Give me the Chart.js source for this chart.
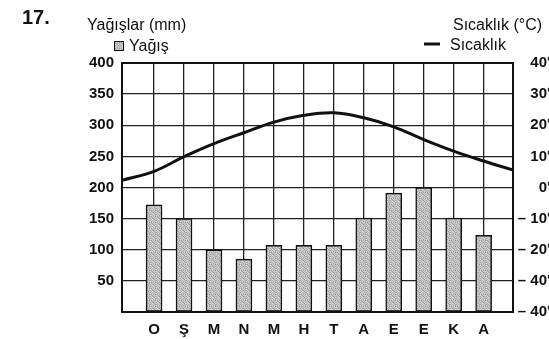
<!DOCTYPE html>
<html>
<head>
<meta charset="utf-8">
<script src="https://cdn.jsdelivr.net/npm/chart.js@4"></script>
<style>
  html, body { margin: 0; background: #fff; overflow: hidden; }
  canvas { display: block; }
</style>
</head>
<body>
<canvas id="iklimChart" width="553" height="339"></canvas>
<script>
// aylar ve değerler
const aylar = ['O', 'Ş', 'M', 'N', 'M', 'H', 'T', 'A', 'E', 'E', 'K', 'A'];
const yagis = [172, 150, 100, 85, 107, 107, 107, 151, 191, 200, 151, 123];   // mm
const sicaklik = [5.2, 9.9, 14.1, 17.6, 21.0, 23.2, 24.0, 22.4, 19.5, 15.4, 11.7, 8.5]; // °C
const sicaklikBas = 2.3;  // eğrinin sol kenardaki değeri
const sicaklikSon = 5.6;  // eğrinin sağ kenardaki değeri
const solEtiketler = ['50', '100', '150', '200', '250', '300', '350', '400'];
const sagEtiketler = { 40: '40°', 30: '30°', 20: '20°', 10: '10°', 0: '0°', '-10': '– 10°', '-20': '– 20°', '-30': '– 40°', '-40': '– 40°' };

const X_MIN = -1.07, X_MAX = 11.98;
const FONT = "'Liberation Sans', Arial, sans-serif";

// benekli gri dolgu deseni
function dokuYap() {
    const c = document.createElement('canvas');
    c.width = 6; c.height = 6;
    const g = c.getContext('2d');
    const tonlar = [
        '#c4c4c4', '#9a9a9a', '#d2d2d2', '#b0b0b0', '#cfcfcf', '#8e8e8e',
        '#d6d6d6', '#b8b8b8', '#a2a2a2', '#d0d0d0', '#bcbcbc', '#c8c8c8',
        '#a8a8a8', '#d4d4d4', '#c0c0c0', '#949494', '#cccccc', '#b4b4b4',
        '#cdcdcd', '#b2b2b2', '#d8d8d8', '#c6c6c6', '#9e9e9e', '#d3d3d3',
        '#a0a0a0', '#c9c9c9', '#b6b6b6', '#d1d1d1', '#c2c2c2', '#aaaaaa',
        '#d5d5d5', '#bebebe', '#cacaca', '#a6a6a6', '#cecece', '#b9b9b9'
    ];
    tonlar.forEach((t, i) => { g.fillStyle = t; g.fillRect(i % 6, Math.floor(i / 6), 1, 1); });
    return g.createPattern(c, 'repeat');
}
const doku = dokuYap();

const sicaklikNoktalari = [{ x: X_MIN, y: sicaklikBas }]
    .concat(sicaklik.map((v, i) => ({ x: i, y: v })))
    .concat([{ x: X_MAX, y: sicaklikSon }]);

const basliklar = {
    id: 'basliklar',
    afterDraw(chart) {
        const ctx = chart.ctx;
        const a = chart.chartArea;
        ctx.save();
        // çerçeve
        ctx.strokeStyle = '#111';
        ctx.lineWidth = 2;
        ctx.strokeRect(a.left, a.top, a.right - a.left, a.bottom - a.top);

        ctx.fillStyle = '#111';
        ctx.textBaseline = 'alphabetic';
        ctx.font = 'bold 20px ' + FONT;
        ctx.fillText('17.', 22, 24);

        ctx.font = '16px ' + FONT;
        ctx.fillText('Yağışlar (mm)', 87, 30);
        ctx.fillText('Yağış', 129, 51);
        ctx.fillStyle = doku;
        ctx.fillRect(114, 41, 10, 10);
        ctx.strokeStyle = '#111';
        ctx.lineWidth = 1;
        ctx.strokeRect(114.5, 41.5, 9, 9);

        ctx.fillStyle = '#111';
        ctx.fillText('Sıcaklık (°C)', 453, 30);
        ctx.fillText('Sıcaklık', 450, 50);
        ctx.lineWidth = 3;
        ctx.beginPath();
        ctx.moveTo(424, 44);
        ctx.lineTo(440, 44);
        ctx.stroke();
        ctx.restore();
    }
};

new Chart(document.getElementById('iklimChart'), {
    type: 'bar',
    data: {
        datasets: [{
            type: 'line',
            label: 'Sıcaklık',
            data: sicaklikNoktalari,
            yAxisID: 'y2',
            borderColor: '#111',
            borderWidth: 3,
            tension: 0.4,
            pointRadius: 0,
            fill: false,
            order: 0
        }, {
            label: 'Yağış',
            data: yagis.map((v, i) => ({ x: i, y: v })),
            yAxisID: 'y',
            backgroundColor: doku,
            borderColor: '#111',
            borderWidth: 1.5,
            borderSkipped: false,
            barThickness: 16,
            order: 1
        }]
    },
    options: {
        responsive: false,
        animation: false,
        layout: { padding: { top: 63, left: 0, right: 0, bottom: 0 } },
        plugins: { legend: { display: false }, tooltip: { enabled: false } },
        scales: {
            x: {
                type: 'linear',
                min: X_MIN,
                max: X_MAX,
                offset: false,
                afterBuildTicks: s => { s.ticks = aylar.map((_, i) => ({ value: i })); },
                afterFit: s => { s.height = 27; },
                grid: { color: '#222', lineWidth: 1.3, drawTicks: false, offset: false },
                border: { display: false },
                ticks: {
                    padding: 9,
                    color: '#111',
                    font: { family: FONT, size: 15, weight: 'bold' },
                    callback: v => aylar[v]
                }
            },
            y: {
                position: 'left',
                min: 0,
                max: 400,
                afterBuildTicks: s => { s.ticks = [0].concat(solEtiketler.map(Number)).map(v => ({ value: v })); },
                afterFit: s => { s.width = 122; },
                grid: { color: '#222', lineWidth: 1.3, drawTicks: false },
                border: { display: false },
                ticks: {
                    padding: 8,
                    color: '#111',
                    font: { family: FONT, size: 15, weight: 'bold' },
                    callback: v => (v === 0 ? '' : String(v))
                }
            },
            y2: {
                position: 'right',
                min: -40,
                max: 40,
                afterBuildTicks: s => { s.ticks = Object.keys(sagEtiketler).map(k => ({ value: Number(k) })); },
                afterFit: s => { s.width = 40; },
                grid: { display: false, drawTicks: false },
                border: { display: false },
                ticks: {
                    padding: 5,
                    crossAlign: 'far',
                    color: '#111',
                    font: { family: FONT, size: 15, weight: 'bold' },
                    callback: v => sagEtiketler[v]
                }
            }
        }
    },
    plugins: [basliklar]
});
</script>
</body>
</html>
